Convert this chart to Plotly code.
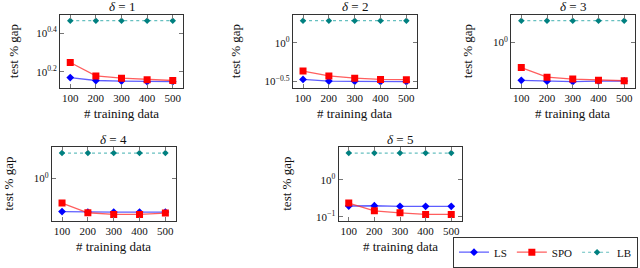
import math
import plotly.graph_objects as go

train_sizes = [100, 200, 300, 400, 500]
deltas = [1, 2, 3, 4, 5]

ls_vals = {
    1: [1.48, 1.43, 1.42, 1.41, 1.41],
    2: [0.335, 0.319, 0.316, 0.313, 0.313],
    3: [0.219, 0.211, 0.207, 0.211, 0.213],
    4: [0.271, 0.265, 0.265, 0.265, 0.265],
    5: [0.197, 0.200, 0.193, 0.193, 0.193],
}
spo_vals = {
    1: [1.77, 1.51, 1.47, 1.445, 1.43],
    2: [0.43, 0.372, 0.348, 0.335, 0.332],
    3: [0.365, 0.248, 0.230, 0.219, 0.215],
    4: [0.379, 0.258, 0.242, 0.242, 0.255],
    5: [0.236, 0.146, 0.129, 0.117, 0.117],
}
lb_vals = {
    1: [2.91, 2.91, 2.91, 2.91, 2.91],
    2: [1.94, 1.94, 1.94, 1.94, 1.94],
    3: [2.42, 2.42, 2.42, 2.42, 2.42],
    4: [2.75, 2.75, 2.75, 2.75, 2.75],
    5: [5.3, 5.3, 5.3, 5.3, 5.3],
}
ytick_exps = {
    1: [0.2, 0.4],
    2: [-0.5, 0],
    3: [0],
    4: [0],
    5: [-1, 0],
}

W, H = 640, 268
# plot boxes in pixels: (left, right, top, bottom)
boxes = {
    1: (60, 183, 15, 90.5),
    2: (292.7, 416.7, 15, 90.5),
    3: (511, 634.5, 15, 90.5),
    4: (51.7, 175.7, 151.5, 227.3),
    5: (338.5, 461.5, 151.5, 227.3),
}
ytitle_x = {1: 13, 2: 235, 3: 467, 4: 9, 5: 287}

FONT = "Liberation Serif"
fig = go.Figure()
annotations = []

for i, d in enumerate(deltas):
    n = "" if i == 0 else str(i + 1)
    xa, ya = "x" + n, "y" + n
    show = i == 0
    fig.add_trace(go.Scatter(
        x=train_sizes, y=ls_vals[d], name="LS", mode="lines+markers",
        line=dict(color="rgba(40,40,255,0.75)", width=1.3),
        marker=dict(symbol="diamond", size=6, color="#0000ff"),
        xaxis=xa, yaxis=ya, showlegend=show, legendrank=1))
    fig.add_trace(go.Scatter(
        x=train_sizes, y=spo_vals[d], name="SPO", mode="lines+markers",
        line=dict(color="rgba(255,40,40,0.75)", width=1.3),
        marker=dict(symbol="square", size=7, color="#ff0000"),
        xaxis=xa, yaxis=ya, showlegend=show, legendrank=2))
    fig.add_trace(go.Scatter(
        x=train_sizes, y=lb_vals[d], name="LB", mode="lines+markers",
        line=dict(color="rgba(0,150,150,0.6)", width=1.1, dash="dot"),
        marker=dict(symbol="diamond", size=5, color="#008080"),
        xaxis=xa, yaxis=ya, showlegend=show, legendrank=3))

    l, r, t, b = boxes[d]
    allv = ls_vals[d] + spo_vals[d] + lb_vals[d]
    lo, hi = math.log10(min(allv)), math.log10(max(allv))
    pad = 0.1 * (hi - lo)
    axcommon = dict(showline=True, linecolor="#333", linewidth=1, mirror="allticks",
                    ticks="inside", ticklen=4, tickcolor="#777", showgrid=False,
                    zeroline=False, tickfont=dict(family=FONT, size=11, color="#111"))
    fig.layout["xaxis" + n] = dict(
        domain=[l / W, r / W], anchor=ya, range=[60, 540],
        tickvals=train_sizes, ticktext=[str(v) for v in train_sizes], **axcommon)
    fig.layout["yaxis" + n] = dict(
        domain=[1 - b / H, 1 - t / H], anchor=xa, type="log",
        range=[lo - pad, hi + pad],
        tickvals=[10 ** e for e in ytick_exps[d]],
        ticktext=["10<sup>%s</sup>" % (("%g" % e).replace("-", "−")) for e in ytick_exps[d]],
        **axcommon)

    cx = (l + r) / 2 / W
    common = dict(xref="paper", yref="paper", showarrow=False, xanchor="center",
                  yanchor="middle", font=dict(family=FONT, size=13, color="#111"))
    annotations.append(dict(text="<i>δ</i> = %d" % d, x=cx, y=1 - (t - 8) / H, **common))
    annotations.append(dict(text="# training data", x=cx, y=1 - (b + 27) / H, **common))
    annotations.append(dict(text="test % gap", x=ytitle_x[d] / W, y=1 - (t + b) / 2 / H,
                            textangle=-90, **common))

fig.update_layout(
    width=W, height=H, margin=dict(l=0, r=0, t=0, b=0),
    paper_bgcolor="white", plot_bgcolor="white",
    annotations=annotations,
    legend=dict(orientation="h", x=1 - 2 / W, y=1 - 244 / H, xanchor="right", yanchor="top",
                bordercolor="#333", borderwidth=1, font=dict(family=FONT, size=11, color="#111"),
                tracegroupgap=0, itemwidth=30),
    font=dict(family=FONT),
)

fig.write_html("out.html", config={"displayModeBar": False},
               post_script="document.body.style.margin='0';document.body.style.overflow='hidden';")
